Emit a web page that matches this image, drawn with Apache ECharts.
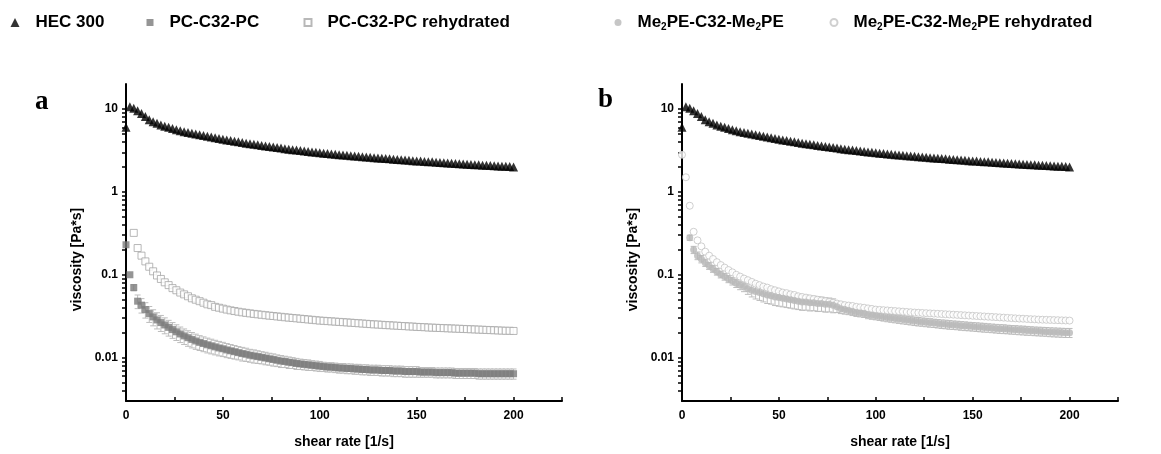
<!DOCTYPE html>
<html><head><meta charset="utf-8">
<script src="https://cdn.jsdelivr.net/npm/echarts@6/dist/echarts.min.js"></script>
<style>html,body{margin:0;padding:0;background:#fff}#c{width:1161px;height:454px}</style>
</head><body><div id="c"></div>
<script>
const rates = [0,2,4,6,8,10,12,14,16,18,20,22,24,26,28,30,32,34,36,38,40,42,44,46,48,50,52,54,56,58,60,62,64,66,68,70,72,74,76,78,80,82,84,86,88,90,92,94,96,98,100,102,104,106,108,110,112,114,116,118,120,122,124,126,128,130,132,134,136,138,140,142,144,146,148,150,152,154,156,158,160,162,164,166,168,170,172,174,176,178,180,182,184,186,188,190,192,194,196,198,200];

const hec300 = [6.0,10.6,10.2,9.5,8.8,8.1,7.4,7.0,6.7,6.4,6.2,6.0,5.8,5.6,5.45,5.3,5.2,5.1,5.0,4.9,4.8,4.7,4.6,4.5,4.4,4.3,4.22,4.15,4.08,4.01,3.94,3.87,3.81,3.75,3.69,3.63,3.57,3.52,3.47,3.42,3.37,3.32,3.27,3.23,3.19,3.15,3.11,3.07,3.03,3.0,2.96,2.93,2.9,2.87,2.84,2.81,2.78,2.76,2.73,2.7,2.68,2.65,2.63,2.61,2.58,2.56,2.54,2.52,2.5,2.48,2.46,2.44,2.42,2.4,2.38,2.36,2.35,2.33,2.31,2.3,2.28,2.26,2.25,2.23,2.22,2.2,2.19,2.17,2.16,2.14,2.13,2.12,2.1,2.09,2.08,2.06,2.05,2.04,2.03,2.02,2.0];

const pcC32 = [0.23,0.10,0.07,0.048,0.043,0.038,0.034,0.031,0.0285,0.0265,0.0248,0.0232,0.0218,0.0205,0.0193,0.0183,0.0174,0.0166,0.0159,0.0153,0.0148,0.0143,0.0139,0.0135,0.0131,0.0128,0.0124,0.0121,0.0118,0.0115,0.0112,0.011,0.0107,0.0105,0.0103,0.0101,0.0099,0.0097,0.0095,0.0093,0.0091,0.009,0.0088,0.0087,0.0085,0.0084,0.0083,0.0082,0.0081,0.008,0.0079,0.0078,0.0077,0.0077,0.0076,0.0075,0.0075,0.0074,0.0074,0.0073,0.0073,0.0072,0.0072,0.0071,0.0071,0.0071,0.007,0.007,0.007,0.0069,0.0069,0.0069,0.0068,0.0068,0.0068,0.0068,0.0067,0.0067,0.0067,0.0067,0.0066,0.0066,0.0066,0.0066,0.0066,0.0065,0.0065,0.0065,0.0065,0.0065,0.0065,0.0064,0.0064,0.0064,0.0064,0.0064,0.0064,0.0064,0.0064,0.0064,0.0064];

const pcC32Err = [0,0,0.006,0.009,0.0085,0.008,0.0074,0.0068,0.0063,0.0058,0.0054,0.005,0.0047,0.0044,0.0041,0.0039,0.0037,0.0035,0.0033,0.0031,0.003,0.0029,0.0028,0.0027,0.0026,0.0025,0.0024,0.0023,0.0022,0.0021,0.0021,0.002,0.0019,0.0019,0.0018,0.0017,0.0017,0.0016,0.0016,0.0015,0.0015,0.0014,0.0014,0.0013,0.0013,0.0012,0.0012,0.0012,0.0011,0.0011,0.0011,0.001,0.001,0.001,0.001,0.001,0.001,0.001,0.001,0.001,0.001,0.001,0.001,0.001,0.001,0.001,0.001,0.001,0.001,0.001,0.001,0.001,0.001,0.001,0.001,0.001,0.0009,0.0009,0.0009,0.0009,0.0009,0.0009,0.0009,0.0009,0.0009,0.0009,0.0009,0.0009,0.0009,0.0009,0.0009,0.0009,0.0009,0.0009,0.0009,0.0009,0.0009,0.0009,0.0009,0.0009,0.0009];

const pcC32Rehyd = [null,null,0.32,0.21,0.17,0.145,0.125,0.11,0.098,0.089,0.081,0.075,0.069,0.065,0.061,0.058,0.055,0.052,0.05,0.048,0.046,0.044,0.043,0.041,0.04,0.039,0.038,0.0372,0.0365,0.0358,0.0352,0.0347,0.0342,0.0337,0.0333,0.0329,0.0325,0.0321,0.0318,0.0314,0.0311,0.0307,0.0304,0.0301,0.0298,0.0295,0.0292,0.0289,0.0286,0.0283,0.028,0.0278,0.0276,0.0274,0.0272,0.027,0.0268,0.0266,0.0264,0.0262,0.026,0.0258,0.0256,0.0254,0.0252,0.0251,0.0249,0.0247,0.0246,0.0244,0.0243,0.0241,0.024,0.0238,0.0237,0.0235,0.0234,0.0233,0.0231,0.023,0.0229,0.0228,0.0227,0.0226,0.0225,0.0224,0.0223,0.0222,0.0221,0.022,0.0219,0.0218,0.0217,0.0216,0.0215,0.0214,0.0213,0.0212,0.0211,0.0211,0.021];

const me2pe = [null,null,0.28,0.2,0.17,0.155,0.14,0.128,0.118,0.109,0.101,0.095,0.089,0.084,0.079,0.075,0.072,0.068,0.065,0.063,0.061,0.059,0.057,0.056,0.054,0.053,0.052,0.051,0.05,0.049,0.048,0.047,0.047,0.046,0.046,0.045,0.045,0.044,0.044,0.043,0.041,0.039,0.038,0.037,0.036,0.035,0.0345,0.034,0.033,0.0325,0.032,0.0315,0.031,0.0305,0.03,0.0296,0.0292,0.0288,0.0284,0.028,0.0276,0.0273,0.027,0.0267,0.0264,0.0261,0.0258,0.0255,0.0253,0.025,0.0248,0.0246,0.0243,0.0241,0.0239,0.0237,0.0235,0.0233,0.0231,0.0229,0.0227,0.0225,0.0223,0.0222,0.022,0.0218,0.0217,0.0215,0.0214,0.0212,0.0211,0.0209,0.0208,0.0207,0.0206,0.0204,0.0203,0.0202,0.0201,0.02,0.02];

const me2peErr = [0,0,0.02,0.02,0.018,0.016,0.014,0.012,0.011,0.01,0.0095,0.009,0.0088,0.0088,0.0088,0.009,0.0095,0.01,0.011,0.012,0.012,0.012,0.012,0.0118,0.0115,0.0113,0.011,0.0108,0.0105,0.0103,0.01,0.0098,0.0096,0.0094,0.0092,0.009,0.0088,0.0086,0.0084,0.0082,0.006,0.005,0.0045,0.004,0.0038,0.0036,0.0035,0.0035,0.0035,0.0035,0.0034,0.0034,0.0034,0.0034,0.0033,0.0033,0.0033,0.0033,0.0032,0.0032,0.0032,0.0032,0.0031,0.0031,0.0031,0.003,0.003,0.003,0.003,0.003,0.0029,0.0029,0.0029,0.0029,0.0028,0.0028,0.0028,0.0028,0.0028,0.0027,0.0027,0.0027,0.0027,0.0027,0.0026,0.0026,0.0026,0.0026,0.0026,0.0026,0.0025,0.0025,0.0025,0.0025,0.0025,0.0025,0.0025,0.0025,0.0025,0.0025,0.0025];

const me2peRehyd = [2.8,1.5,0.68,0.33,0.26,0.22,0.19,0.17,0.155,0.142,0.131,0.122,0.114,0.107,0.1,0.095,0.09,0.086,0.082,0.078,0.075,0.072,0.07,0.067,0.065,0.063,0.061,0.06,0.058,0.057,0.055,0.054,0.053,0.052,0.051,0.05,0.049,0.048,0.047,0.046,0.045,0.044,0.043,0.0425,0.042,0.041,0.0405,0.04,0.0393,0.0387,0.038,0.0377,0.0374,0.0371,0.0368,0.0365,0.0362,0.0359,0.0356,0.0353,0.035,0.0348,0.0346,0.0344,0.0342,0.034,0.0338,0.0336,0.0334,0.0332,0.033,0.0328,0.0326,0.0324,0.0322,0.032,0.0318,0.0316,0.0314,0.0312,0.031,0.0308,0.0306,0.0304,0.0302,0.03,0.0298,0.0296,0.0295,0.0293,0.0291,0.029,0.0288,0.0287,0.0286,0.0285,0.0284,0.0283,0.0282,0.0281,0.028];

const yMajorLabels = [0.01, 0.1, 1, 10];
const yTickValues = [0.004,0.005,0.006,0.007,0.008,0.009,0.01,0.02,0.03,0.04,0.05,0.06,0.07,0.08,0.09,0.1,0.2,0.3,0.4,0.5,0.6,0.7,0.8,0.9,1,2,3,4,5,6,7,8,9,10];
const xLabelValues = [0, 50, 100, 150, 200];

const FONT = '"Liberation Sans", Arial, sans-serif';
const pairs = (vals) => rates.map((x, i) => [x, vals[i]]).filter(p => p[1] != null);
const triples = (vals, errs) => rates.map((x, i) => [x, vals[i], errs[i]]).filter(p => p[1] != null);

function errorBars(params, api) {
  const x = api.value(0), y = api.value(1), e = api.value(2);
  if (!e) return null;
  const t = api.coord([x, y + e]);
  const b = api.coord([x, y - e]);
  const w = 3;
  const st = { stroke: '#bdbdbd', lineWidth: 1, fill: null };
  return { type: 'group', children: [
    { type: 'line', shape: { x1: t[0], y1: t[1], x2: b[0], y2: b[1] }, style: st },
    { type: 'line', shape: { x1: t[0] - w, y1: t[1], x2: t[0] + w, y2: t[1] }, style: st },
    { type: 'line', shape: { x1: b[0] - w, y1: b[1], x2: b[0] + w, y2: b[1] }, style: st }
  ]};
}

function xAxis(gi) {
  return {
    type: 'value', gridIndex: gi, min: 0, max: 225, interval: 25,
    axisLine: { show: true, lineStyle: { color: '#000', width: 2 } },
    axisTick: { show: true, inside: true, length: 4, lineStyle: { color: '#000', width: 1.5 } },
    splitLine: { show: false },
    axisLabel: { margin: 9, color: '#000', fontFamily: FONT, fontWeight: 'bold', fontSize: 12,
      formatter: v => xLabelValues.indexOf(v) >= 0 ? String(v) : '' },
    name: 'shear rate [1/s]', nameLocation: 'middle', nameGap: 34,
    nameTextStyle: { color: '#000', fontFamily: FONT, fontWeight: 'bold', fontSize: 14 }
  };
}
function yAxisMain(gi) {
  return {
    type: 'log', logBase: 10, gridIndex: gi, min: 0.003, max: 20,
    axisLine: { show: true, lineStyle: { color: '#000', width: 2 } },
    axisTick: { show: true, inside: false, length: 4, customValues: yTickValues, lineStyle: { color: '#000', width: 1.5 } },
    splitLine: { show: false }, minorTick: { show: false },
    axisLabel: { margin: 8, color: '#000', fontFamily: FONT, fontWeight: 'bold', fontSize: 12,
      customValues: yMajorLabels,
      formatter: v => { const k = Math.round(Math.log10(v)); return ['0.01','0.1','1','10'][k + 2] || ''; } },
    name: 'viscosity [Pa*s]', nameLocation: 'middle', nameGap: 42,
    nameTextStyle: { color: '#000', fontFamily: FONT, fontWeight: 'bold', fontSize: 14, padding: [0, 34, 0, 0] }
  };
}

const symHEC = { type: 'scatter', name: 'HEC 300', symbol: 'triangle', symbolSize: 9, itemStyle: { color: '#000' }, z: 5 };
function series() {
  return [
    Object.assign({}, symHEC, { xAxisIndex: 0, yAxisIndex: 0, data: pairs(hec300) }),
    { type: 'custom', xAxisIndex: 0, yAxisIndex: 0, renderItem: errorBars, data: triples(pcC32, pcC32Err), z: 1, silent: true, encode: { x: 0, y: 1 } },
    { type: 'scatter', name: 'PC-C32-PC rehydrated', xAxisIndex: 0, yAxisIndex: 0, symbol: 'rect', symbolSize: 7,
      itemStyle: { color: '#fff', borderColor: '#a6a6a6', borderWidth: 1 }, data: pairs(pcC32Rehyd), z: 2 },
    { type: 'scatter', name: 'PC-C32-PC', xAxisIndex: 0, yAxisIndex: 0, symbol: 'rect', symbolSize: 7,
      itemStyle: { color: '#7b7b7b' }, data: pairs(pcC32), z: 3 },

    Object.assign({}, symHEC, { xAxisIndex: 1, yAxisIndex: 1, data: pairs(hec300) }),
    { type: 'custom', xAxisIndex: 1, yAxisIndex: 1, renderItem: errorBars, data: triples(me2pe, me2peErr), z: 1, silent: true, encode: { x: 0, y: 1 } },
    { type: 'scatter', name: 'Me2PE-C32-Me2PE rehydrated', xAxisIndex: 1, yAxisIndex: 1, symbol: 'circle', symbolSize: 7,
      itemStyle: { color: '#fff', borderColor: '#c4c4c4', borderWidth: 1 }, data: pairs(me2peRehyd), z: 2 },
    { type: 'scatter', name: 'Me2PE-C32-Me2PE', xAxisIndex: 1, yAxisIndex: 1, symbol: 'circle', symbolSize: 7,
      itemStyle: { color: '#b8b8b8' }, data: pairs(me2pe), z: 3 }
  ];
}

const legendRich = {
  p: { width: 11 },
  a: { fontFamily: FONT, fontWeight: 'bold', fontSize: 17, color: '#000' },
  s: { fontFamily: FONT, fontWeight: 'bold', fontSize: 10, color: '#000', padding: [10, 0, 0, 0] }
};
function legendLabel(name) {
  if (name.indexOf('Me2PE') === 0) {
    const rest = name.replace('Me2PE-C32-Me2PE', '');
    return '{p|}{a|Me}{s|2}{a|PE-C32-Me}{s|2}{a|PE' + rest + '}';
  }
  return '{p|}{a|' + name + '}';
}
function legend(name, cx, size) {
  return { data: [name], left: cx - size / 2, top: 14, itemWidth: size, itemHeight: size, itemGap: 0, padding: 0,
    selectedMode: false, formatter: legendLabel, textStyle: { rich: legendRich } };
}

const chart = echarts.init(document.getElementById('c'), null, { renderer: 'canvas' });
chart.setOption({
  animation: false,
  backgroundColor: '#fff',
  grid: [
    { left: 126, top: 84, width: 436, height: 322 },
    { left: 682, top: 84, width: 436, height: 322 }
  ],
  xAxis: [xAxis(0), xAxis(1)],
  yAxis: [yAxisMain(0), yAxisMain(1)],
  legend: [
    legend('HEC 300', 15, 9),
    legend('PC-C32-PC', 150, 7),
    legend('PC-C32-PC rehydrated', 307, 7),
    legend('Me2PE-C32-Me2PE', 618, 7),
    legend('Me2PE-C32-Me2PE rehydrated', 833, 7)
  ],
  graphic: [
    { type: 'text', left: 35, top: 89, style: { text: 'a', font: 'bold 27px "Liberation Serif", serif', fill: '#000' } },
    { type: 'text', left: 598, top: 87, style: { text: 'b', font: 'bold 27px "Liberation Serif", serif', fill: '#000' } }
  ],
  series: series()
});
</script></body></html>
